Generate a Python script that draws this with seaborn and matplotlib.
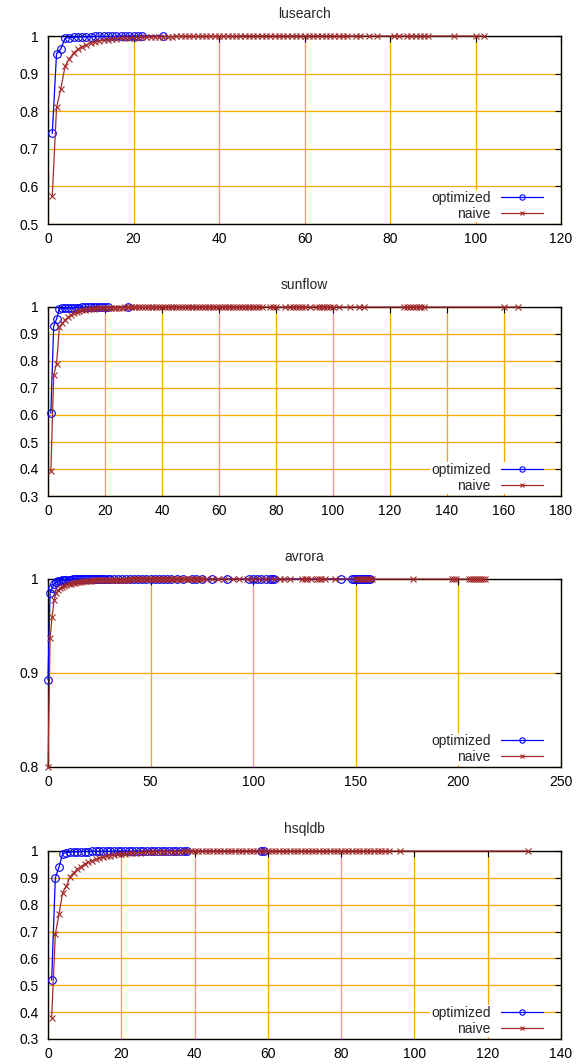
import matplotlib
matplotlib.use("Agg")
import matplotlib.pyplot as plt
import seaborn as sns
import pandas as pd
from matplotlib.ticker import FormatStrFormatter, MultipleLocator

# ---------------- data ----------------
titles = ["lusearch", "sunflow", "avrora", "hsqldb"]
series_names = ["optimized", "naive"]

# lusearch
lus_opt_x = [1, 2, 3, 4, 5, 6, 7, 8, 9, 10, 11, 12, 13, 14, 15, 16, 17, 18, 19, 20, 21, 22, 27]
lus_opt_y = [0.741, 0.953, 0.966, 0.994, 0.996, 0.997, 0.997, 0.998, 0.998, 0.998,
             0.999, 0.999, 0.999, 0.999, 0.999, 0.999, 1.0, 1.0, 1.0, 1.0, 1.0, 1.0, 1.0]
lus_nai_x = [1, 2, 3, 4, 5, 6, 7, 8, 9, 10, 11, 12, 13, 14, 15, 16, 17, 18, 19, 20,
             21, 22, 23, 24, 25, 26, 27, 28, 29, 30, 31, 32, 33, 34, 35, 36, 37, 38, 39, 40,
             41, 42, 43, 44, 45, 46, 47, 48, 49, 50, 51, 52, 53, 54, 55, 56, 57, 58, 59, 60,
             61, 62, 63, 64, 65, 66, 67, 68, 69, 70, 72, 73, 75, 77, 81, 82, 84, 85, 86, 87,
             88, 89, 95, 100, 102]
lus_nai_y = [0.575, 0.810, 0.860, 0.920, 0.940, 0.955, 0.965, 0.972, 0.977, 0.981,
             0.984, 0.987, 0.989, 0.990, 0.992, 0.993, 0.994, 0.995, 0.995, 0.996,
             0.996, 0.997, 0.997, 0.997, 0.998, 0.998, 0.998, 0.998, 0.998, 0.999,
             0.999, 0.999, 0.999, 0.999, 0.999, 0.999, 0.999, 0.999, 0.999, 0.999,
             0.999, 0.999, 0.999, 0.999, 1.0, 1.0, 1.0, 1.0, 1.0, 1.0,
             1.0, 1.0, 1.0, 1.0, 1.0, 1.0, 1.0, 1.0, 1.0, 1.0,
             1.0, 1.0, 1.0, 1.0, 1.0, 1.0, 1.0, 1.0, 1.0, 1.0,
             1.0, 1.0, 1.0, 1.0, 1.0, 1.0, 1.0, 1.0, 1.0, 1.0,
             1.0, 1.0, 1.0, 1.0, 1.0]

# sunflow
sun_opt_x = [1, 2, 3, 4, 5, 6, 7, 8, 9, 10, 11, 12, 13, 14, 15, 16, 17, 18, 19, 20, 21, 28]
sun_opt_y = [0.607, 0.930, 0.955, 0.993, 0.995, 0.996, 0.997, 0.997, 0.998, 0.998,
             0.998, 0.999, 0.999, 0.999, 0.999, 0.999, 1.0, 1.0, 1.0, 1.0, 1.0, 1.0]
sun_nai_x = [1, 2, 3, 4, 5, 6, 7, 8, 9, 10, 11, 12, 13, 14, 15, 16, 17, 18, 19, 20,
             21, 22, 23, 24, 25, 26, 27, 28, 29, 30, 31, 32, 33, 34, 35, 36, 37, 38, 39, 40,
             41, 42, 43, 44, 45, 46, 47, 48, 49, 50, 51, 52, 53, 54, 55, 56, 57, 58, 59, 60,
             61, 62, 63, 64, 65, 66, 67, 68, 69, 70, 71, 72, 73, 74, 75, 78, 79, 80, 83, 85,
             86, 87, 88, 89, 90, 92, 94, 95, 96, 97, 98, 99, 100, 102, 106, 109, 111, 125, 126, 127,
             128, 129, 130, 131, 132, 160, 165]
sun_nai_y = [0.393, 0.748, 0.790, 0.925, 0.940, 0.952, 0.962, 0.970, 0.977, 0.982,
             0.985, 0.988, 0.990, 0.992, 0.993, 0.994, 0.995, 0.996, 0.996, 0.997,
             0.997, 0.997, 0.998, 0.998, 0.998, 0.998, 0.999, 0.999, 0.999, 0.999,
             0.999, 0.999, 0.999, 0.999, 0.999, 0.999, 0.999, 0.999, 1.0, 1.0,
             1.0, 1.0, 1.0, 1.0, 1.0, 1.0, 1.0, 1.0, 1.0, 1.0,
             1.0, 1.0, 1.0, 1.0, 1.0, 1.0, 1.0, 1.0, 1.0, 1.0,
             1.0, 1.0, 1.0, 1.0, 1.0, 1.0, 1.0, 1.0, 1.0, 1.0,
             1.0, 1.0, 1.0, 1.0, 1.0, 1.0, 1.0, 1.0, 1.0, 1.0,
             1.0, 1.0, 1.0, 1.0, 1.0, 1.0, 1.0, 1.0, 1.0, 1.0,
             1.0, 1.0, 1.0, 1.0, 1.0, 1.0, 1.0, 1.0, 1.0, 1.0,
             1.0, 1.0, 1.0, 1.0, 1.0, 1.0, 1.0]

# avrora
avr_opt_x = [0, 1, 2, 3, 4, 5, 6, 7, 8, 9, 10, 11, 12, 13, 14, 15, 16, 17, 18, 19,
             20, 21, 22, 23, 24, 25, 26, 27, 28, 29, 30, 32, 34, 36, 38, 40, 42, 44, 46, 48,
             50, 52, 54, 56, 58, 60, 63, 66, 70, 72, 75, 80, 87, 98, 100, 102, 104, 106, 108, 109,
             110, 143, 148, 149, 150, 151, 152, 153, 154, 155, 156, 157]
avr_opt_y = [0.893, 0.985, 0.990, 0.995, 0.997, 0.998, 0.998, 0.999, 0.999, 0.999,
             0.999, 0.999, 1.0, 1.0, 1.0, 1.0, 1.0, 1.0, 1.0, 1.0,
             1.0, 1.0, 1.0, 1.0, 1.0, 1.0, 1.0, 1.0, 1.0, 1.0,
             1.0, 1.0, 1.0, 1.0, 1.0, 1.0, 1.0, 1.0, 1.0, 1.0,
             1.0, 1.0, 1.0, 1.0, 1.0, 1.0, 1.0, 1.0, 1.0, 1.0,
             1.0, 1.0, 1.0, 1.0, 1.0, 1.0, 1.0, 1.0, 1.0, 1.0,
             1.0, 1.0, 1.0, 1.0, 1.0, 1.0, 1.0, 1.0, 1.0, 1.0,
             1.0, 1.0]
avr_nai_x = [0, 1, 2, 3, 4, 5, 6, 7, 8, 9, 10, 11, 12, 13, 14, 15, 16, 17, 18, 19,
             20, 21, 22, 23, 24, 25, 26, 27, 28, 29, 30, 31, 32, 33, 34, 35, 36, 37, 38, 39,
             40, 41, 42, 43, 44, 45, 46, 47, 48, 49, 50, 51, 52, 53, 54, 55, 56, 57, 58, 59,
             60, 61, 62, 63, 64, 65, 66, 67, 68, 69, 70, 71, 72, 73, 74, 75, 77, 80, 83, 86,
             90, 93, 97, 100, 103, 106, 110, 113, 115, 118, 124, 125, 126, 128, 131, 132, 133, 135, 140, 150,
             151, 152, 153, 154, 155, 156, 157, 158, 178, 197, 198, 199, 205, 206, 207, 208, 209, 210, 211, 212,
             213]
avr_nai_y = [0.800, 0.937, 0.960, 0.978, 0.985, 0.988, 0.990, 0.992, 0.993, 0.994,
             0.995, 0.995, 0.996, 0.996, 0.997, 0.997, 0.997, 0.998, 0.998, 0.998,
             0.998, 0.998, 0.999, 0.999, 0.999, 0.999, 0.999, 0.999, 0.999, 0.999,
             0.999, 0.999, 0.999, 0.999, 0.999, 0.999, 0.999, 0.999, 0.999, 0.999,
             1.0, 1.0, 1.0, 1.0, 1.0, 1.0, 1.0, 1.0, 1.0, 1.0,
             1.0, 1.0, 1.0, 1.0, 1.0, 1.0, 1.0, 1.0, 1.0, 1.0,
             1.0, 1.0, 1.0, 1.0, 1.0, 1.0, 1.0, 1.0, 1.0, 1.0,
             1.0, 1.0, 1.0, 1.0, 1.0, 1.0, 1.0, 1.0, 1.0, 1.0,
             1.0, 1.0, 1.0, 1.0, 1.0, 1.0, 1.0, 1.0, 1.0, 1.0,
             1.0, 1.0, 1.0, 1.0, 1.0, 1.0, 1.0, 1.0, 1.0, 1.0,
             1.0, 1.0, 1.0, 1.0, 1.0, 1.0, 1.0, 1.0, 1.0, 1.0,
             1.0, 1.0, 1.0, 1.0, 1.0, 1.0, 1.0, 1.0, 1.0, 1.0,
             1.0]

# hsqldb
hsq_opt_x = [1, 2, 3, 4, 5, 6, 7, 8, 9, 10, 11, 12, 13, 14, 15, 16, 17, 18, 19, 20,
             21, 22, 23, 24, 25, 26, 27, 28, 29, 30, 31, 32, 33, 34, 35, 36, 37, 38, 58, 59]
hsq_opt_y = [0.520, 0.900, 0.940, 0.990, 0.994, 0.996, 0.997, 0.997, 0.998, 0.998,
             0.998, 0.999, 0.999, 0.999, 0.999, 0.999, 0.999, 0.999, 1.0, 1.0,
             1.0, 1.0, 1.0, 1.0, 1.0, 1.0, 1.0, 1.0, 1.0, 1.0,
             1.0, 1.0, 1.0, 1.0, 1.0, 1.0, 1.0, 1.0, 1.0, 1.0]
hsq_nai_x = [1, 2, 3, 4, 5, 6, 7, 8, 9, 10, 11, 12, 13, 14, 15, 16, 17, 18, 19, 20,
             21, 22, 23, 24, 25, 26, 27, 28, 29, 30, 31, 32, 33, 34, 35, 36, 37, 38, 39, 40,
             41, 42, 43, 44, 45, 46, 47, 48, 49, 50, 51, 52, 53, 54, 55, 56, 57, 58, 59, 60,
             61, 62, 63, 64, 65, 66, 67, 68, 69, 70, 71, 72, 73, 74, 75, 76, 77, 78, 79, 80,
             81, 82, 83, 84, 85, 86, 87, 88, 89, 90, 91, 92, 93, 96, 131]
hsq_nai_y = [0.380, 0.690, 0.765, 0.845, 0.868, 0.905, 0.918, 0.932, 0.942, 0.952,
             0.958, 0.964, 0.969, 0.973, 0.977, 0.980, 0.983, 0.985, 0.987, 0.989,
             0.990, 0.991, 0.992, 0.993, 0.994, 0.995, 0.995, 0.996, 0.996, 0.997,
             0.997, 0.997, 0.998, 0.998, 0.998, 0.998, 0.999, 0.999, 0.999, 0.999,
             0.999, 0.999, 0.999, 0.999, 0.999, 1.0, 1.0, 1.0, 1.0, 1.0,
             1.0, 1.0, 1.0, 1.0, 1.0, 1.0, 1.0, 1.0, 1.0, 1.0,
             1.0, 1.0, 1.0, 1.0, 1.0, 1.0, 1.0, 1.0, 1.0, 1.0,
             1.0, 1.0, 1.0, 1.0, 1.0, 1.0, 1.0, 1.0, 1.0, 1.0,
             1.0, 1.0, 1.0, 1.0, 1.0, 1.0, 1.0, 1.0, 1.0, 1.0,
             1.0, 1.0, 1.0, 1.0, 1.0]

panel_data = [
    ((lus_opt_x, lus_opt_y), (lus_nai_x, lus_nai_y)),
    ((sun_opt_x, sun_opt_y), (sun_nai_x, sun_nai_y)),
    ((avr_opt_x, avr_opt_y), (avr_nai_x, avr_nai_y)),
    ((hsq_opt_x, hsq_opt_y), (hsq_nai_x, hsq_nai_y)),
]
x_limits = [(0, 120), (0, 180), (0, 250), (0, 140)]
x_steps = [20, 20, 50, 20]
y_limits = [(0.5, 1.0), (0.3, 1.0), (0.8, 1.0), (0.3, 1.0)]

# ---------------- style ----------------
sns.set_style("white")
plt.rcParams["font.family"] = ["Liberation Sans", "DejaVu Sans"]
plt.rcParams["font.size"] = 10

colors = {"optimized": "#0000ff", "naive": "#a52a2a"}
markers = {"optimized": "o", "naive": "x"}
GRID = "#ffa500"

fig = plt.figure(figsize=(5.86, 10.64), dpi=100)
W, H = 586.0, 1064.0
left, right = 48, 561
tops = [36, 307, 579, 851]
bottoms = [224, 496, 767, 1039]

for i in range(4):
    ax = fig.add_axes([left / W, 1 - bottoms[i] / H, (right - left) / W, (bottoms[i] - tops[i]) / H])
    for name, (xs, ys) in zip(series_names, panel_data[i]):
        df = pd.DataFrame({"x": [a for a, b in zip(xs, ys)], "y": [b for a, b in zip(xs, ys)]})
        sns.lineplot(data=df, x="x", y="y", ax=ax, estimator=None, sort=False,
                     color=colors[name], marker=markers[name], markersize=5.5 if name == "optimized" else 5,
                     markerfacecolor="none", markeredgecolor=colors[name], markeredgewidth=0.8,
                     linewidth=0.9, label=name, clip_on=False, zorder=3)
    ax.set_xlim(*x_limits[i])
    ax.set_ylim(*y_limits[i])
    ax.xaxis.set_major_locator(MultipleLocator(x_steps[i]))
    ax.yaxis.set_major_locator(MultipleLocator(0.1))
    ax.yaxis.set_major_formatter(FormatStrFormatter("%g"))
    ax.xaxis.set_major_formatter(FormatStrFormatter("%g"))
    ax.grid(True, color=GRID, linewidth=0.9, zorder=0)
    ax.set_axisbelow(True)
    ax.set_xlabel("")
    ax.set_ylabel("")
    ax.set_title(titles[i], fontsize=10, pad=13)
    for sp in ax.spines.values():
        sp.set_color("black")
        sp.set_linewidth(1.0)
        sp.set_zorder(2.5)
    ax.tick_params(direction="in", length=4, width=0.8, top=True, right=True,
                   labelsize=10, colors="black")
    ax.tick_params(axis="y", pad=7)
    ax.tick_params(axis="x", pad=6)
    ax_w = right - left
    ax_h = bottoms[i] - tops[i]
    leg = ax.legend(loc="lower right", bbox_to_anchor=(1 - 17 / ax_w, 2 / ax_h),
                    markerfirst=False, frameon=True, fancybox=False,
                    framealpha=1.0, edgecolor="none", facecolor="white", fontsize=10,
                    handlelength=3.0, handletextpad=0.75, labelspacing=0.1, markerscale=0.7,
                    borderpad=0.1, borderaxespad=0.0)
    for t in leg.get_texts():
        t.set_ha("right")
    leg.set_zorder(4)

fig.savefig("out.png", dpi=100)
